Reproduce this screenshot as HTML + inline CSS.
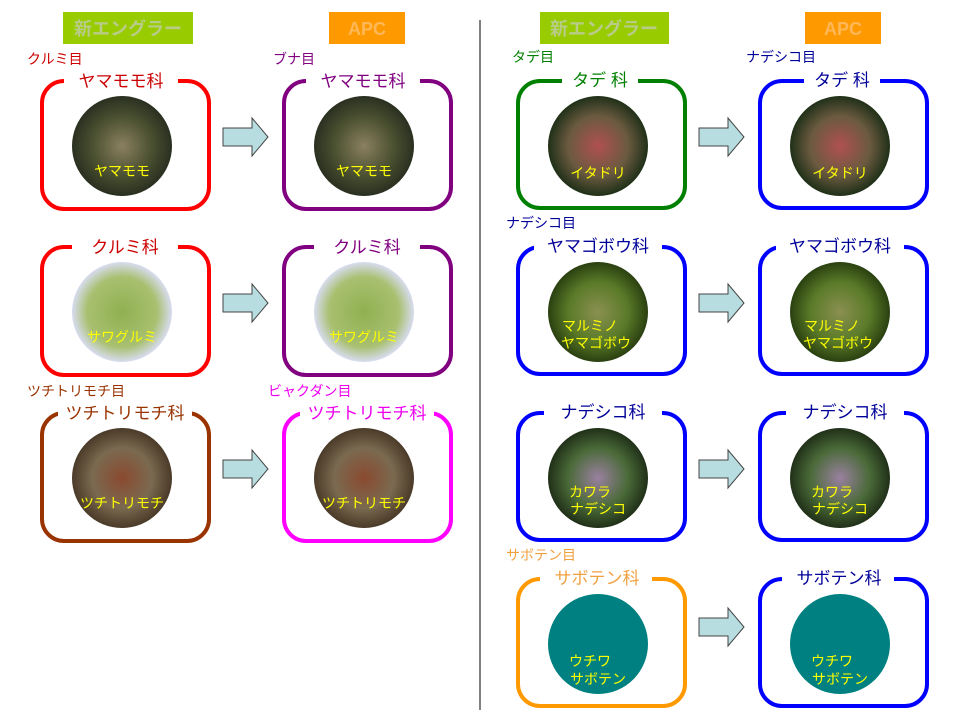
<!DOCTYPE html>
<html><head><meta charset="utf-8"><style>
html,body{margin:0;padding:0;background:#fff}
svg{display:block}
text{font-family:"Liberation Sans","Noto Sans CJK JP",sans-serif}
.t{font-size:17px;text-anchor:middle}
.o{font-size:14px}
.c{font-size:14px;fill:#ffff00;text-anchor:middle}
</style></head><body>
<svg width="960" height="720" viewBox="0 0 960 720" xmlns="http://www.w3.org/2000/svg">
<defs>
<radialGradient id="g1"><stop offset="0" stop-color="#8a8060"/><stop offset="0.6" stop-color="#4a5030"/><stop offset="1" stop-color="#2a3020"/></radialGradient>
<radialGradient id="g2"><stop offset="0" stop-color="#90b050"/><stop offset="0.7" stop-color="#a8c070"/><stop offset="1" stop-color="#d8dcf0"/></radialGradient>
<radialGradient id="g3"><stop offset="0" stop-color="#8a4a30"/><stop offset="0.6" stop-color="#7a6a50"/><stop offset="1" stop-color="#4a3a28"/></radialGradient>
<radialGradient id="g4"><stop offset="0" stop-color="#b05050"/><stop offset="0.6" stop-color="#6a5a40"/><stop offset="1" stop-color="#203018"/></radialGradient>
<radialGradient id="g5"><stop offset="0" stop-color="#8a9050"/><stop offset="0.6" stop-color="#5a7a28"/><stop offset="1" stop-color="#2a4010"/></radialGradient>
<radialGradient id="g6"><stop offset="0" stop-color="#9a80a0"/><stop offset="0.6" stop-color="#4a6a38"/><stop offset="1" stop-color="#203018"/></radialGradient>
</defs>

<rect x="63" y="12" width="130" height="32" fill="#99cc00"/>
<text x="128" y="35" font-size="18" fill="#b8cc88" text-anchor="middle" font-weight="bold">新エングラー</text>
<rect x="329" y="12" width="76" height="32" fill="#ff9900"/>
<text x="367" y="35" font-size="18" fill="#ffb858" text-anchor="middle" font-weight="bold">APC</text>
<rect x="540" y="12" width="129" height="32" fill="#99cc00"/>
<text x="604" y="35" font-size="18" fill="#b8cc88" text-anchor="middle" font-weight="bold">新エングラー</text>
<rect x="805" y="12" width="76" height="32" fill="#ff9900"/>
<text x="843" y="35" font-size="18" fill="#ffb858" text-anchor="middle" font-weight="bold">APC</text>

<line x1="480" y1="20" x2="480" y2="710" stroke="#000" stroke-width="1"/>

<text class="o" x="27" y="64" fill="#cc0000">クルミ目</text>
<text class="o" x="273" y="64" fill="#800080">ブナ目</text>
<text class="o" x="27" y="396" fill="#993300">ツチトリモチ目</text>
<text class="o" x="268" y="396" fill="#ee00ee">ビャクダン目</text>
<text class="o" x="512" y="62" fill="#008000">タデ目</text>
<text class="o" x="746" y="62" fill="#000099">ナデシコ目</text>
<text class="o" x="506" y="228" fill="#000099">ナデシコ目</text>
<text class="o" x="506" y="560" fill="#f0a040">サボテン目</text>

<g fill="none" stroke-width="4">
<rect x="42" y="81" width="167" height="128" rx="22" stroke="#ff0000"/>
<rect x="284" y="81" width="167" height="128" rx="22" stroke="#800080"/>
<rect x="42" y="247" width="167" height="128" rx="22" stroke="#ff0000"/>
<rect x="284" y="247" width="167" height="128" rx="22" stroke="#800080"/>
<rect x="42" y="413" width="167" height="128" rx="22" stroke="#993300"/>
<rect x="284" y="413" width="167" height="128" rx="22" stroke="#ff00ff"/>
<rect x="518" y="81" width="167" height="127" rx="22" stroke="#008000"/>
<rect x="760" y="81" width="167" height="127" rx="22" stroke="#0000ff"/>
<rect x="518" y="247" width="167" height="127" rx="22" stroke="#0000ff"/>
<rect x="760" y="247" width="167" height="127" rx="22" stroke="#0000ff"/>
<rect x="518" y="413" width="167" height="127" rx="22" stroke="#0000ff"/>
<rect x="760" y="413" width="167" height="127" rx="22" stroke="#0000ff"/>
<rect x="518" y="579" width="167" height="127" rx="22" stroke="#ff9900"/>
<rect x="760" y="579" width="167" height="127" rx="22" stroke="#0000ff"/>
</g>
<g fill="#fff">
<rect x="64" y="74" width="114" height="14"/><rect x="306" y="74" width="114" height="14"/>
<rect x="72" y="240" width="106" height="14"/><rect x="314" y="240" width="106" height="14"/>
<rect x="58" y="406" width="134" height="14"/><rect x="300" y="406" width="134" height="14"/>
<rect x="562" y="74" width="76" height="14"/><rect x="804" y="74" width="76" height="14"/>
<rect x="534" y="240" width="128" height="14"/><rect x="776" y="240" width="128" height="14"/>
<rect x="544" y="406" width="118" height="14"/><rect x="786" y="406" width="118" height="14"/>
<rect x="540" y="572" width="112" height="14"/><rect x="782" y="572" width="112" height="14"/>
</g>
<text class="t" x="121" y="87" fill="#cc0000">ヤマモモ科</text>
<text class="t" x="363" y="87" fill="#800080">ヤマモモ科</text>
<text class="t" x="125" y="253" fill="#cc0000">クルミ科</text>
<text class="t" x="367" y="253" fill="#800080">クルミ科</text>
<text class="t" x="125" y="419" fill="#993300">ツチトリモチ科</text>
<text class="t" x="367" y="419" fill="#ee00ee">ツチトリモチ科</text>
<text class="t" x="600" y="86" fill="#008000">タデ 科</text>
<text class="t" x="842" y="86" fill="#000099">タデ 科</text>
<text class="t" x="598" y="252" fill="#000099">ヤマゴボウ科</text>
<text class="t" x="840" y="252" fill="#000099">ヤマゴボウ科</text>
<text class="t" x="603" y="418" fill="#000099">ナデシコ科</text>
<text class="t" x="845" y="418" fill="#000099">ナデシコ科</text>
<text class="t" x="597" y="584" fill="#f0a040">サボテン科</text>
<text class="t" x="839" y="584" fill="#000099">サボテン科</text>

<circle cx="122" cy="146" r="50" fill="url(#g1)"/><circle cx="364" cy="146" r="50" fill="url(#g1)"/>
<circle cx="122" cy="312" r="50" fill="url(#g2)"/><circle cx="364" cy="312" r="50" fill="url(#g2)"/>
<circle cx="122" cy="478" r="50" fill="url(#g3)"/><circle cx="364" cy="478" r="50" fill="url(#g3)"/>
<circle cx="598" cy="146" r="50" fill="url(#g4)"/><circle cx="840" cy="146" r="50" fill="url(#g4)"/>
<circle cx="598" cy="312" r="50" fill="url(#g5)"/><circle cx="840" cy="312" r="50" fill="url(#g5)"/>
<circle cx="598" cy="478" r="50" fill="url(#g6)"/><circle cx="840" cy="478" r="50" fill="url(#g6)"/>
<circle cx="598" cy="644" r="50" fill="#008080"/><circle cx="840" cy="644" r="50" fill="#008080"/>

<text class="c" x="122" y="176">ヤマモモ</text><text class="c" x="364" y="176">ヤマモモ</text>
<text class="c" x="122" y="342">サワグルミ</text><text class="c" x="364" y="342">サワグルミ</text>
<text class="c" x="122" y="508">ツチトリモチ</text><text class="c" x="364" y="508">ツチトリモチ</text>
<text class="c" x="598" y="178">イタドリ</text><text class="c" x="840" y="178">イタドリ</text>
<text class="c" x="590" y="331">マルミノ</text><text class="c" x="596" y="348">ヤマゴボウ</text>
<text class="c" x="832" y="331">マルミノ</text><text class="c" x="838" y="348">ヤマゴボウ</text>
<text class="c" x="590" y="497">カワラ</text><text class="c" x="598" y="514">ナデシコ</text>
<text class="c" x="832" y="497">カワラ</text><text class="c" x="840" y="514">ナデシコ</text>
<text class="c" x="590" y="666">ウチワ</text><text class="c" x="598" y="684">サボテン</text>
<text class="c" x="832" y="666">ウチワ</text><text class="c" x="840" y="684">サボテン</text>

<g fill="#b7dde0" stroke="#444" stroke-width="1">
<path d="M223,128 H252 V118 L268,137 L252,156 V146 H223 Z"/>
<path d="M223,294 H252 V284 L268,303 L252,322 V312 H223 Z"/>
<path d="M223,460 H252 V450 L268,469 L252,488 V478 H223 Z"/>
<path d="M699,128 H728 V118 L744,137 L728,156 V146 H699 Z"/>
<path d="M699,294 H728 V284 L744,303 L728,322 V312 H699 Z"/>
<path d="M699,460 H728 V450 L744,469 L728,488 V478 H699 Z"/>
<path d="M699,618 H728 V608 L744,627 L728,646 V636 H699 Z"/>
</g>
</svg>
</body></html>
